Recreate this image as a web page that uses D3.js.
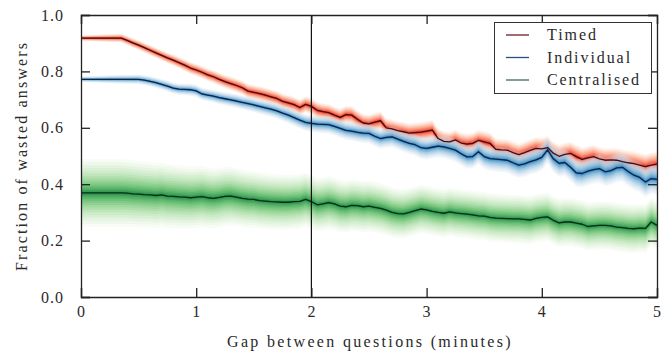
<!DOCTYPE html>
<html><head><meta charset="utf-8">
<script src="https://cdn.jsdelivr.net/npm/d3@7/dist/d3.min.js"></script>
<style>
body{margin:0;background:#fff}
</style>
</head><body>
<svg id="c" width="670" height="354"></svg>
<script>
// ---- data ----
const gap = [0,0.05,0.1,0.15,0.2,0.25,0.3,0.35,0.4,0.45,0.5,0.55,0.6,0.65,0.7,0.75,0.8,0.85,0.9,0.95,
 1,1.05,1.1,1.15,1.2,1.25,1.3,1.35,1.4,1.45,1.5,1.55,1.6,1.65,1.7,1.75,1.8,1.85,1.9,1.95,
 2,2.05,2.1,2.15,2.2,2.25,2.3,2.35,2.4,2.45,2.5,2.55,2.6,2.65,2.7,2.75,2.8,2.85,2.9,2.95,
 3,3.05,3.1,3.15,3.2,3.25,3.3,3.35,3.4,3.45,3.5,3.55,3.6,3.65,3.7,3.75,3.8,3.85,3.9,3.95,
 4,4.05,4.1,4.15,4.2,4.25,4.3,4.35,4.4,4.45,4.5,4.55,4.6,4.65,4.7,4.75,4.8,4.85,4.9,4.95,5];
const timed = [0.918,0.918,0.918,0.918,0.918,0.918,0.918,0.918,0.910,0.901,0.893,0.884,0.875,0.866,0.857,0.848,0.840,0.831,0.822,0.812,
 0.805,0.797,0.788,0.781,0.772,0.764,0.757,0.750,0.742,0.730,0.726,0.721,0.716,0.710,0.704,0.694,0.688,0.682,0.672,0.683,
 0.676,0.662,0.657,0.654,0.645,0.637,0.647,0.645,0.630,0.617,0.614,0.620,0.625,0.600,0.596,0.590,0.586,0.581,0.583,0.585,
 0.588,0.592,0.562,0.552,0.550,0.557,0.546,0.542,0.545,0.555,0.550,0.545,0.524,0.522,0.521,0.512,0.505,0.512,0.520,0.527,
 0.525,0.530,0.510,0.499,0.506,0.509,0.498,0.488,0.493,0.498,0.490,0.485,0.486,0.485,0.480,0.476,0.473,0.468,0.462,0.468,0.471];
const individual = [0.772,0.772,0.772,0.772,0.772,0.772,0.772,0.772,0.772,0.772,0.772,0.769,0.765,0.760,0.754,0.748,0.741,0.737,0.736,0.735,
 0.731,0.720,0.716,0.712,0.707,0.703,0.699,0.695,0.690,0.686,0.681,0.676,0.671,0.666,0.660,0.652,0.645,0.636,0.627,0.619,
 0.616,0.613,0.612,0.611,0.605,0.598,0.591,0.588,0.584,0.581,0.580,0.570,0.562,0.566,0.568,0.560,0.552,0.545,0.540,0.530,
 0.527,0.531,0.535,0.532,0.527,0.521,0.508,0.497,0.498,0.515,0.498,0.491,0.489,0.487,0.485,0.476,0.468,0.472,0.480,0.486,
 0.495,0.522,0.490,0.474,0.477,0.460,0.440,0.438,0.446,0.452,0.455,0.444,0.448,0.458,0.460,0.445,0.432,0.424,0.408,0.420,0.417];
const centralised = [0.369,0.369,0.369,0.369,0.369,0.369,0.369,0.369,0.368,0.366,0.365,0.363,0.362,0.360,0.362,0.358,0.357,0.355,0.354,0.352,
 0.354,0.356,0.352,0.350,0.353,0.357,0.358,0.354,0.350,0.347,0.346,0.342,0.340,0.338,0.337,0.336,0.336,0.338,0.339,0.346,
 0.338,0.327,0.330,0.335,0.330,0.322,0.320,0.325,0.324,0.320,0.322,0.318,0.314,0.308,0.300,0.296,0.295,0.300,0.306,0.312,
 0.309,0.304,0.300,0.297,0.302,0.298,0.296,0.294,0.291,0.288,0.287,0.282,0.280,0.279,0.278,0.277,0.277,0.275,0.273,0.279,
 0.282,0.284,0.272,0.263,0.266,0.266,0.262,0.258,0.250,0.252,0.254,0.254,0.252,0.248,0.246,0.243,0.242,0.244,0.243,0.266,0.254];
// half-width of the outermost uncertainty band, at a few gaps
const spreadGap = [0, 0.35, 1.5, 3, 5];
const timedSpread = [0.01, 0.016, 0.026, 0.036, 0.045];
const individualSpread = [0.01, 0.016, 0.026, 0.04, 0.055];
const centralisedSpread = [0.12, 0.12, 0.10, 0.085, 0.085];
const seriesNames = ["Timed", "Individual", "Centralised"];
const xTicks = [0,1,2,3,4,5];
const yTicks = [0,0.2,0.4,0.6,0.8,1.0];
const markerGap = 2;

// ---- chart ----
const L = 81, R = 657, T = 15, B = 297;
const svg = d3.select("#c");
const x = d3.scaleLinear().domain([0,5]).range([L,R]);
const y = d3.scaleLinear().domain([0,1]).range([B,T]);
const FONT = "Liberation Serif";
const TXT = "#2a2a2a";

// stretch text to a target width with letter-spacing (to mimic the wide CM face)
function fit(sel, target) {
  const n = sel.text().length;
  const w = sel.node().getComputedTextLength();
  sel.attr("letter-spacing", Math.max(0, (target - w) / n));
  return sel;
}

const series = [
  {name:seriesNames[0], v:timed, sp:timedSpread, interp:d3.interpolateReds, line:"#4a0a0e", op:0.25},
  {name:seriesNames[1], v:individual, sp:individualSpread, interp:d3.interpolateBlues, line:"#0a2450", op:0.25},
  {name:seriesNames[2], v:centralised, sp:centralisedSpread, interp:d3.interpolateGreens, line:"#06301a", op:0.3}
];
const legendColors = ["#6e1c22","#2c4d80","#3d6b55"];

const N = 16;
series.forEach(s => {
  const spr = d3.scaleLinear().domain(spreadGap).range(s.sp);
  const g = svg.append("g");
  for (let k = N; k >= 1; k--) {
    const f = Math.pow(k / N, 1.5);
    const area = d3.area()
      .x((d,i) => x(gap[i]))
      .y0((d,i) => y(d - spr(gap[i]) * f))
      .y1((d,i) => y(d + spr(gap[i]) * f));
    g.append("path").datum(s.v).attr("d", area)
      .attr("fill", s.interp(0.12 + 0.8 * (1 - k / N)))
      .attr("fill-opacity", s.op);
  }
});
series.forEach(s => {
  const line = d3.line().x((d,i) => x(gap[i])).y(d => y(d));
  svg.append("path").datum(s.v).attr("d", line)
    .attr("fill","none").attr("stroke", s.line).attr("stroke-width",1.3)
    .attr("stroke-linejoin","round");
});

// vertical marker
svg.append("line").attr("x1",x(markerGap)).attr("x2",x(markerGap))
  .attr("y1",T).attr("y2",B).attr("stroke","#111").attr("stroke-width",1.2);

// axes (ticks inward)
const tk = 9;
const axB = svg.append("g").attr("transform",`translate(0,${B})`)
  .call(d3.axisBottom(x).tickValues(xTicks).tickSize(-tk).tickPadding(9).tickFormat(d3.format("d")));
const axT = svg.append("g").attr("transform",`translate(0,${T})`)
  .call(d3.axisTop(x).tickValues(xTicks).tickSize(-tk).tickFormat(""));
const axL = svg.append("g").attr("transform",`translate(${L},0)`)
  .call(d3.axisLeft(y).tickValues(yTicks).tickSize(-tk).tickPadding(17).tickFormat(d3.format(".1f")));
const axR = svg.append("g").attr("transform",`translate(${R},0)`)
  .call(d3.axisRight(y).tickValues(yTicks).tickSize(-tk).tickFormat(""));
[axB,axT,axL,axR].forEach(a => {
  a.attr("font-family", FONT);
  a.select(".domain").attr("stroke","#222").attr("stroke-width",1.3);
  a.selectAll(".tick line").attr("stroke","#222").attr("stroke-width",1.3);
  a.selectAll("text").attr("font-size",16).attr("fill",TXT).attr("letter-spacing",1);
});

// axis titles
fit(svg.append("text").attr("x",370).attr("y",347).attr("text-anchor","middle")
  .attr("font-family",FONT).attr("font-size",16).attr("fill",TXT)
  .text("Gap between questions (minutes)"), 286);
fit(svg.append("text").attr("transform",`translate(27,156) rotate(-90)`).attr("text-anchor","middle")
  .attr("font-family",FONT).attr("font-size",16).attr("fill",TXT)
  .text("Fraction of wasted answers"), 230);

// legend
const lg = svg.append("g");
lg.append("rect").attr("x",494.5).attr("y",22.5).attr("width",157).attr("height",71)
  .attr("fill","#fff").attr("stroke","#333").attr("stroke-width",1);
const legendWidths = [51, 85, 94];
series.forEach((s,i) => {
  const yy = 35 + i*22.5;
  lg.append("line").attr("x1",506).attr("x2",529).attr("y1",yy).attr("y2",yy)
    .attr("stroke", legendColors[i]).attr("stroke-width",1.3);
  fit(lg.append("text").attr("x",547).attr("y",yy+5).attr("font-family",FONT)
    .attr("font-size",16).attr("fill",TXT).text(s.name), legendWidths[i]);
});
</script>
</body></html>
